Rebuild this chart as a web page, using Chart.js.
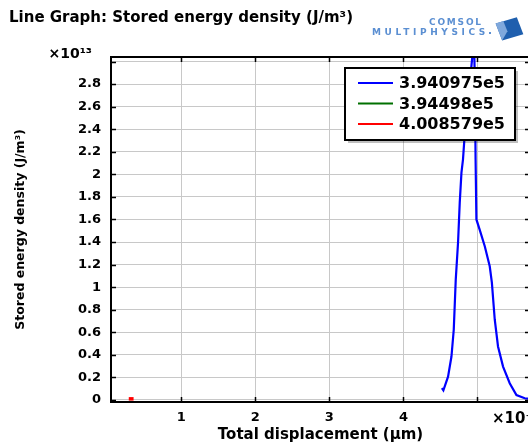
<!DOCTYPE html>
<html>
<head>
<meta charset="utf-8">
<script src="https://cdn.jsdelivr.net/npm/chart.js@4/dist/chart.umd.min.js"></script>
<style>
  html, body { margin: 0; padding: 0; background: #fff; }
  #wrap { width: 528px; height: 448px; overflow: hidden; position: relative; }
  canvas { display: block; }
</style>
</head>
<body>
<div id="wrap"><canvas id="c" width="540" height="448"></canvas></div>
<script>
// ---- data ----
const seriesLabels = ['3.940975e5', '3.94498e5', '4.008579e5'];
const seriesColors = ['#0000ff', '#007000', '#ff0000'];

const blueX = [4.520, 4.540, 4.603, 4.649, 4.680, 4.707, 4.738, 4.761, 4.784, 4.805, 4.830, 4.880, 4.932, 4.950, 4.966, 4.975, 4.986, 5.030, 5.099, 5.166, 5.195, 5.234, 5.278, 5.346, 5.436, 5.527, 5.639, 5.710];
const blueY = [0.105, 0.085, 0.207, 0.385, 0.622, 1.067, 1.396, 1.751, 2.015, 2.133, 2.370, 2.700, 3.050, 3.300, 2.800, 2.130, 1.600, 1.510, 1.363, 1.185, 1.040, 0.711, 0.474, 0.296, 0.148, 0.044, 0.015, 0.010];

const greenX = [0.300, 0.340];
const greenY = [0.008, 0.008];

const redX = [0.290, 0.355];
const redY = [0.010, 0.010];

const xTickValues = [1, 2, 3, 4, 5];
const xTickLabels = ['1', '2', '3', '4', ''];
const yTickValues = [0, 0.2, 0.4, 0.6, 0.8, 1, 1.2, 1.4, 1.6, 1.8, 2, 2.2, 2.4, 2.6, 2.8, 3];
const yTickLabels = ['0', '0.2', '0.4', '0.6', '0.8', '1', '1.2', '1.4', '1.6', '1.8', '2', '2.2', '2.4', '2.6', '2.8', ''];

const chartTitle = 'Line Graph: Stored energy density (J/m\u00B3)';
const xTitle = 'Total displacement (\u03BCm)';
const yTitle = 'Stored energy density (J/m\u00B3)';
const yMultiplier = '\u00D710\u00B9\u00B3';
const xMultiplier = '\u00D710\u207B\u2075';

function pts(xs, ys) { return xs.map((x, i) => ({ x: x, y: ys[i] })); }

const FONT = 'DejaVu Sans';

const decorPlugin = {
  id: 'decor',
  afterDatasetsDraw(chart) {
    const { ctx, chartArea: a, scales } = chart;
    ctx.save();
    // frame
    ctx.strokeStyle = '#000';
    ctx.lineWidth = 2;
    ctx.strokeRect(a.left, a.top, a.right - a.left, a.bottom - a.top);
    // inward tick marks
    ctx.lineWidth = 1.5;
    ctx.beginPath();
    xTickValues.forEach(v => {
      const px = Math.round(scales.x.getPixelForValue(v)) + 0.5;
      ctx.moveTo(px, a.bottom); ctx.lineTo(px, a.bottom - 5);
      ctx.moveTo(px, a.top); ctx.lineTo(px, a.top + 5);
    });
    yTickValues.forEach(v => {
      const py = Math.round(scales.y.getPixelForValue(v)) + 0.5;
      ctx.moveTo(a.left, py); ctx.lineTo(a.left + 5, py);
      ctx.moveTo(a.right, py); ctx.lineTo(a.right - 5, py);
    });
    ctx.stroke();

    // legend box
    const lx = 345, ly = 68, lw = 170, lh = 72;
    ctx.fillStyle = 'rgba(0,0,0,0.25)';
    ctx.fillRect(lx + 3, ly + 3, lw, lh);
    ctx.fillStyle = '#fff';
    ctx.fillRect(lx, ly, lw, lh);
    ctx.strokeStyle = '#000';
    ctx.lineWidth = 2;
    ctx.strokeRect(lx, ly, lw, lh);
    ctx.font = 'bold 16px "' + FONT + '"';
    ctx.textBaseline = 'middle';
    ctx.textAlign = 'left';
    seriesLabels.forEach((lab, i) => {
      const y = 83 + i * 20.5;
      ctx.strokeStyle = seriesColors[i];
      ctx.lineWidth = 2;
      ctx.beginPath();
      ctx.moveTo(358, y); ctx.lineTo(393, y);
      ctx.stroke();
      ctx.fillStyle = '#000';
      ctx.fillText(lab, 399, y + 1);
    });

    // title
    ctx.fillStyle = '#000';
    ctx.font = 'bold 15px "' + FONT + '"';
    ctx.textAlign = 'left';
    ctx.textBaseline = 'middle';
    ctx.fillText(chartTitle, 9, 18);

    // multipliers
    ctx.font = 'bold 14px "' + FONT + '"';
    ctx.textAlign = 'right';
    ctx.fillText(yMultiplier, 92, 54);
    ctx.textAlign = 'left';
    ctx.font = 'bold 15px "' + FONT + '"';
    ctx.fillText(xMultiplier, 492, 419);

    // COMSOL logo
    ctx.fillStyle = '#5b8fd2';
    ctx.textAlign = 'left';
    ctx.font = 'bold 9px "' + FONT + '"';
    ctx.letterSpacing = '1.8px';
    ctx.fillText('COMSOL', 429, 23);
    ctx.letterSpacing = '3.6px';
    ctx.fillText('MULTIPHYSICS', 372, 33);
    ctx.letterSpacing = '0px';
    ctx.fillRect(489, 32, 2, 2);
    // icon
    ctx.save();
    ctx.translate(509, 29);
    ctx.rotate(-0.2);
    ctx.fillStyle = '#1f5fae';
    ctx.beginPath();
    ctx.moveTo(-12, -8); ctx.lineTo(10, -10); ctx.lineTo(13, 8); ctx.lineTo(-9, 10); ctx.closePath();
    ctx.fill();
    ctx.fillStyle = '#7fa8dc';
    ctx.beginPath();
    ctx.moveTo(-12, -8); ctx.lineTo(-4, -9); ctx.lineTo(-2, 2); ctx.lineTo(-9, 10); ctx.closePath();
    ctx.fill();
    ctx.restore();

    ctx.restore();
  }
};

new Chart(document.getElementById('c'), {
  type: 'scatter',
  data: {
    datasets: [
      { label: seriesLabels[0], data: pts(blueX, blueY), borderColor: seriesColors[0], backgroundColor: seriesColors[0], showLine: true, pointRadius: 0, borderWidth: 2.2, tension: 0, order: 0 },
      { label: seriesLabels[1], data: pts(greenX, greenY), borderColor: seriesColors[1], backgroundColor: seriesColors[1], showLine: true, pointRadius: 0, borderWidth: 2, tension: 0, order: 2 },
      { label: seriesLabels[2], data: pts(redX, redY), borderColor: seriesColors[2], backgroundColor: seriesColors[2], showLine: true, pointRadius: 0, borderWidth: 3.5, tension: 0, order: 1 }
    ]
  },
  options: {
    responsive: false,
    animation: false,
    layout: { padding: { top: 57, right: 10, left: 0, bottom: 0 } },
    plugins: { legend: { display: false }, tooltip: { enabled: false }, title: { display: false } },
    scales: {
      x: {
        type: 'linear', position: 'bottom', min: 0.05, max: 5.71,
        afterBuildTicks: s => { s.ticks = xTickValues.map(v => ({ value: v })); },
        afterFit: s => { s.height = 46; },
        ticks: {
          callback: (v) => { const i = xTickValues.indexOf(v); return i >= 0 ? xTickLabels[i] : ''; },
          font: { family: FONT, size: 13, weight: 'bold' }, color: '#000', padding: 8, maxRotation: 0, autoSkip: false
        },
        grid: { color: '#c8c8c8', lineWidth: 1, drawTicks: false },
        border: { display: false },
        title: { display: true, text: xTitle, font: { family: FONT, size: 15, weight: 'bold' }, color: '#000', padding: { top: 0, bottom: 4 } }
      },
      y: {
        type: 'linear', position: 'left', min: -0.018, max: 3.04,
        afterBuildTicks: s => { s.ticks = yTickValues.map(v => ({ value: v })); },
        afterFit: s => { s.width = 111; },
        ticks: {
          callback: (v) => { const i = yTickValues.findIndex(t => Math.abs(t - v) < 1e-9); return i >= 0 ? yTickLabels[i] : ''; },
          font: { family: FONT, size: 13, weight: 'bold' }, color: '#000', padding: 10, autoSkip: false
        },
        grid: { color: '#c8c8c8', lineWidth: 1, drawTicks: false },
        border: { display: false },
        title: { display: true, text: yTitle, font: { family: FONT, size: 12.5, weight: 'bold' }, color: '#000', padding: { top: 13, bottom: 0 } }
      }
    }
  },
  plugins: [decorPlugin]
});
</script>
</body>
</html>
